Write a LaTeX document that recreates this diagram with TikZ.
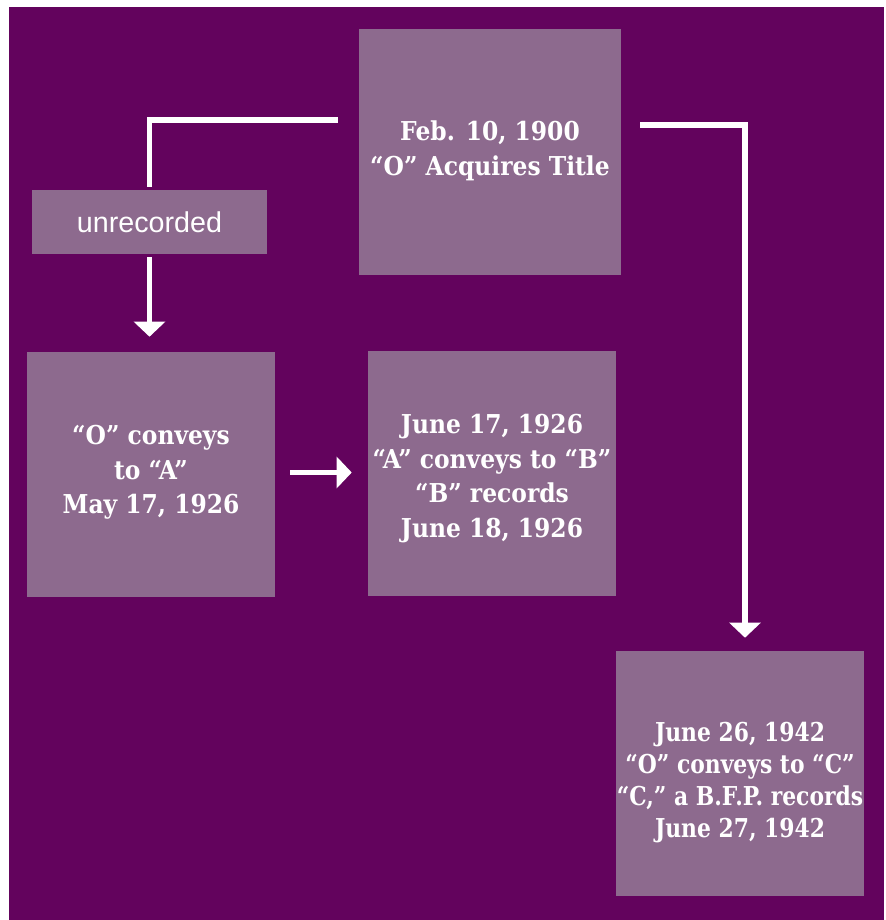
\documentclass[tikz,border=0pt]{standalone}
\usepackage{fontspec}
\usetikzlibrary{arrows.meta,calc}
\newfontfamily\slabfont[FakeStretch=0.9]{DejaVu Serif}
\newfontfamily\slabnarrow[FakeStretch=0.84]{DejaVu Serif}
\newfontfamily\plainfont{Liberation Sans}
\definecolor{plum}{RGB}{99,3,93}
\definecolor{mauve}{RGB}{141,106,142}

\begin{document}
\begin{tikzpicture}[x=0.75pt,y=-0.75pt]
\tikzstyle{every node}+=[inner sep=0pt]
\tikzstyle{deed}=[fill=mauve,draw=none,minimum width=186pt,minimum height=183.75pt]
\tikzstyle{words}=[text=white,align=center,
  font=\slabfont\bfseries\fontsize{19.5}{25.8}\selectfont]
\tikzstyle{link}=[white,line width=4.2pt]
\tikzstyle{arr}=[link,-{Triangle[width=23pt,length=11.25pt]}]
\useasboundingbox (0,0) rectangle (885,920);
\fill [plum] (9,7) rectangle (884,920);
% boxes
\node [deed,minimum width=196.5pt,minimum height=184.5pt] (O) at (490,152) {};
\node [words] (O-text) at ($(O)+(0,-1)$) {Feb. 10, 1900\\“O” Acquires Title};
\node [fill=mauve,minimum width=176.25pt,minimum height=48pt,text=white,
  font=\plainfont\fontsize{21.5}{25}\selectfont] (U) at (149.5,222) {unrecorded};
\node [deed] (A) at (151,474.5) {};
\node [words] (A-text) at ($(A)+(0,-2)$) {“O” conveys\\to “A”\\May 17, 1926};
\node [deed] (B) at (492,473.5) {};
\node [words] (B-text) at ($(B)+(0,5)$)
  {June 17, 1926\\“A” conveys to “B”\\“B” records\\June 18, 1926};
\node [deed] (C) at (740,773.5) {};
\node [words,font=\slabnarrow\bfseries\fontsize{19.5}{24}\selectfont] (C-text)
  at ($(C)+(0,9)$)
  {June 26, 1942\\“O” conveys to “C”\\“C,” a B.F.P. records\\June 27, 1942};
% connectors
\draw [link] ($(O.west)+(-21,-32)$) -| ($(U.north)+(0,-3)$);
\draw [arr] ($(U.south)+(0,3)$) -- ($(U.south |- A.north)+(0,-15)$);
\draw [arr] ($(A.east)+(15,-2)$) -- ($(B.west)+(-16,-1)$);
\draw [arr] ($(O.east)+(19,-27)$) -| ($(C.north)+(5,-13)$);
\end{tikzpicture}
\end{document}
